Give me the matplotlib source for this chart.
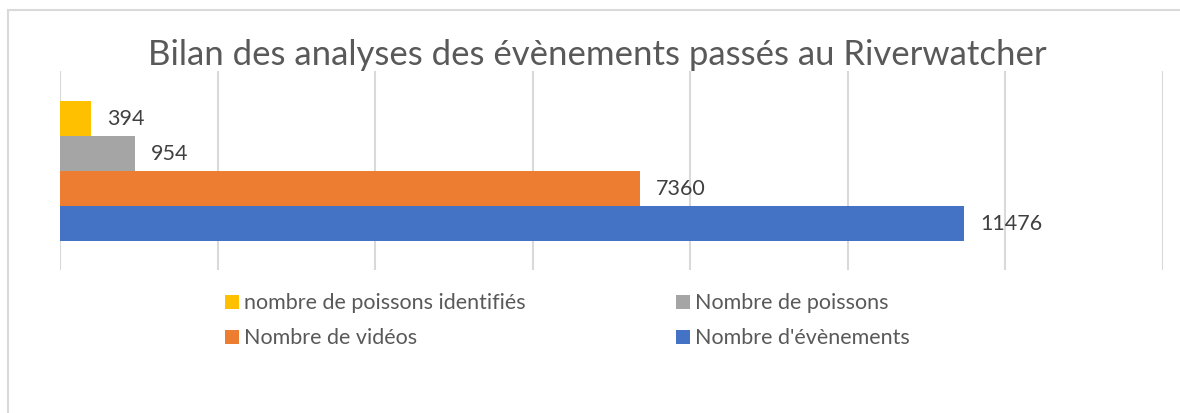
import matplotlib
matplotlib.use("Agg")
import matplotlib.pyplot as plt
from matplotlib.patches import Rectangle

series = ["Nombre d'évènements", "Nombre de vidéos", "Nombre de poissons", "nombre de poissons identifiés"]
values = [11476, 7360, 954, 394]
colors = ["#4472C4", "#ED7D31", "#A5A5A5", "#FFC000"]
title = "Bilan des analyses des évènements passés au Riverwatcher"

W, H = 1180, 414
fig = plt.figure(figsize=(W / 100, H / 100), dpi=100)
plt.rcParams['font.family'] = ['Lato', 'DejaVu Sans']

def fx(x):
    return x / W

def fy(y):
    return 1 - y / H

# outer chart border (light gray)
fig.add_artist(Rectangle((fx(7.5), -0.1), 1.2, fy(10.5) + 0.1, transform=fig.transFigure,
                         fill=False, edgecolor="#D9D9D9", linewidth=1.5))

ax = fig.add_axes([fx(60), fy(271), fx(1163) - fx(60), fy(72) - fy(271)])
bar_h = 35 / 199
ys = [0.5 - 2 * bar_h + bar_h / 2 + i * bar_h for i in range(4)]
bars = ax.barh(ys, values, height=bar_h, color=colors, zorder=2)
ax.bar_label(bars, labels=[str(v) for v in values], padding=11.5, fontsize=15.5, color="#404040")
ax.set_xlim(0, 14000)
ax.set_ylim(0, 1)
ax.set_xticks(range(0, 14001, 2000))
ax.grid(axis="x", color="#D9D9D9", linewidth=1.5, zorder=0)
ax.tick_params(left=False, bottom=False, labelleft=False, labelbottom=False)
for s in ax.spines.values():
    s.set_visible(False)

fig.text(fx(597), fy(55), title, ha="center", va="center", fontsize=25, color="#595959")

# legend (manual, two columns)
leg = [(series[3], colors[3], 225, 303), (series[2], colors[2], 676, 303),
       (series[1], colors[1], 225, 338), (series[0], colors[0], 676, 338)]
for name, c, x, y in leg:
    fig.add_artist(Rectangle((fx(x), fy(y + 7)), fx(14), 14 / H, transform=fig.transFigure,
                             facecolor=c, edgecolor="none"))
    fig.text(fx(x + 19), fy(y), name, ha="left", va="center", fontsize=15.5, color="#595959")

fig.savefig("out.png", dpi=100)
